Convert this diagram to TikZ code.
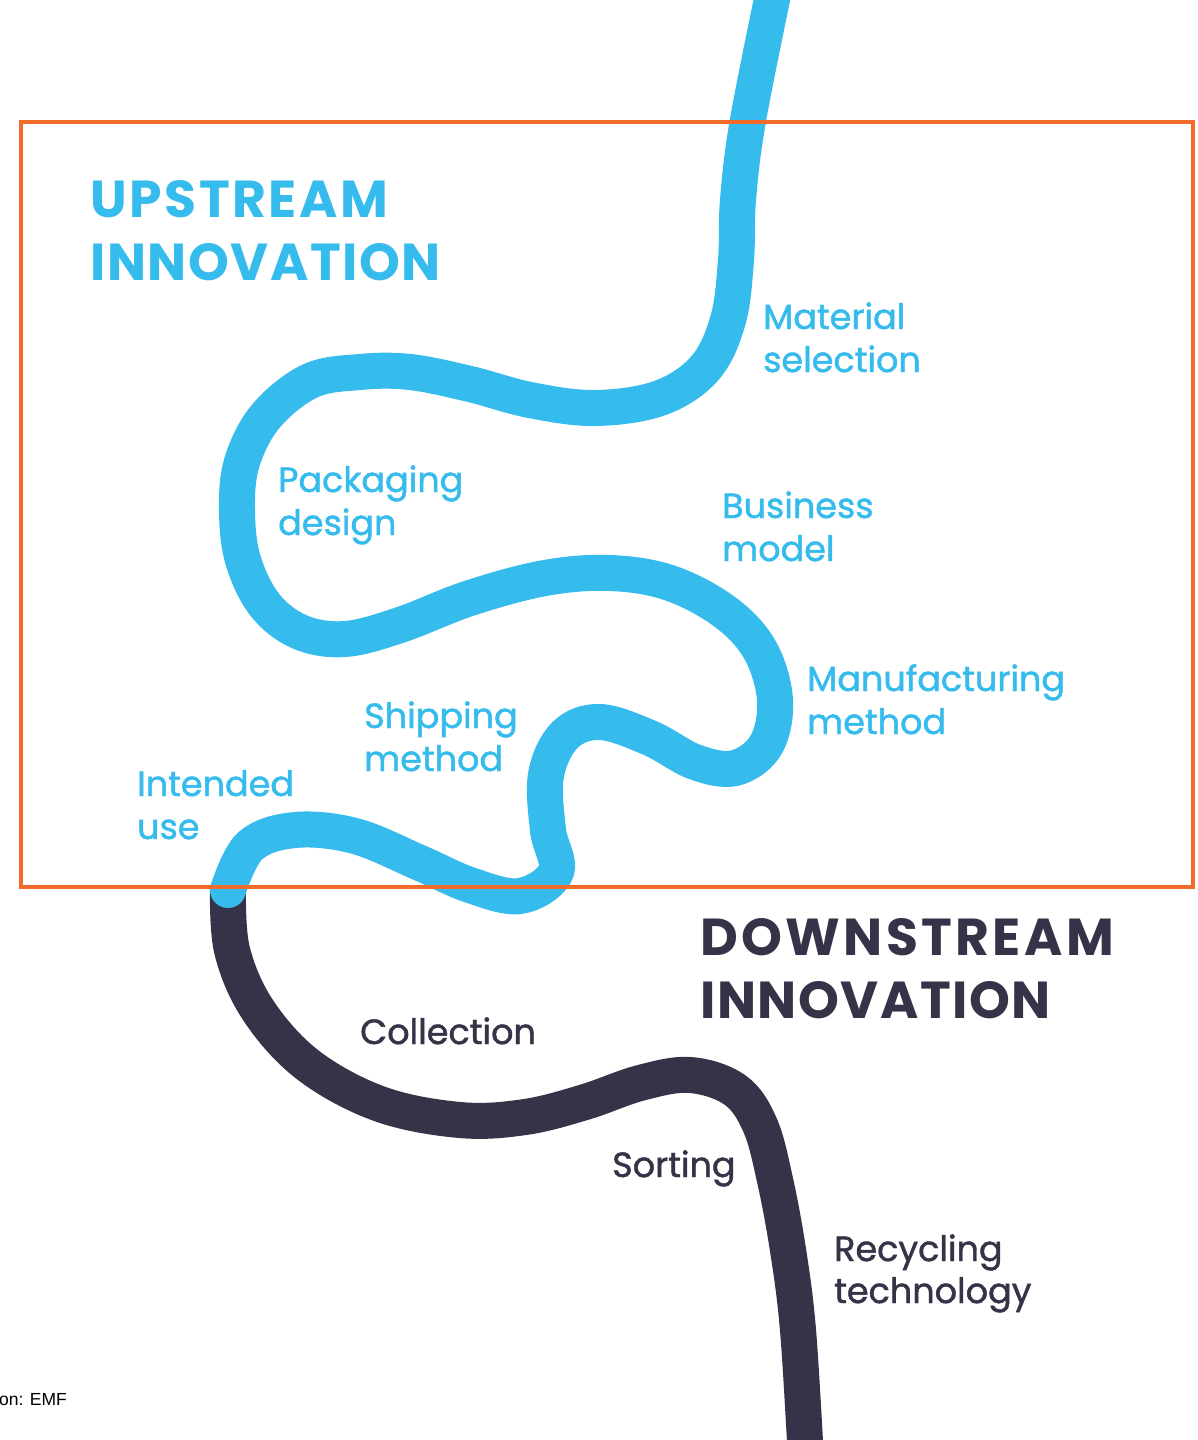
\documentclass[tikz,border=0pt]{standalone}
\usepackage{fontspec}
\setmainfont{Poppins}
\newfontfamily\labfont{Poppins}[FakeBold=1.3]
\newfontfamily\titlefont{Poppins Bold}
\newfontfamily\srcfont{Liberation Sans}
\definecolor{upblue}{HTML}{35BBEC}
\definecolor{downdark}{HTML}{353347}
\definecolor{frameorange}{HTML}{F26B2A}
\begin{document}
\begin{tikzpicture}[x=1pt,y=-1pt,
  lab/.style={anchor=base west,inner sep=0pt,font=\labfont\fontsize{35}{40}\selectfont},
  uplab/.style={lab,text=upblue},
  downlab/.style={lab,text=downdark},
  title/.style={anchor=base west,inner sep=0pt,font=\titlefont\fontsize{52}{60}\selectfont},
  river/.style={line width=36pt,line join=round}]
\useasboundingbox (0,0) rectangle (1197,1440);
\fill[white] (0,0) rectangle (1197,1440);
% downstream river
\draw[river,downdark] plot[smooth,tension=0.6] coordinates {
 (228,888) (232,950) (258,1010) (308,1065) (380,1104) (460,1120) (525,1117)
 (585,1102) (640,1083) (690,1075) (735,1090) (760,1125) (775,1180)
 (788,1250) (798,1330) (806,1460)};
% upstream river
\draw[river,upblue,line cap=round] plot[smooth,tension=0.6] coordinates {
 (776,-20) (748,120) (738,200) (736,260) (728,320) (705,368) (660,398) (595,408)
 (530,400) (470,384) (410,372) (360,372) (310,381) (266,416) (242,462)
 (237,510) (243,560) (265,605) (300,632) (345,639) (400,625)
 (470,598) (545,578) (610,573) (670,583) (725,612) (760,650) (775,700)
 (766,745) (735,768) (695,762) (650,738) (600,722) (565,735) (546,775)
 (548,830) (556,872) (520,896) (470,885) (420,863) (355,836)
 (295,830) (250,846) (228,890)};
% frame
\draw[frameorange,line width=4pt] (21,122) rectangle (1193,887);
% titles
\node[title,text=upblue] (up1) at (90,217) {\addfontfeature{LetterSpace=5}UPSTREAM};
\node[title,text=upblue] (up2) at (90,280) {\addfontfeature{LetterSpace=3}INNOVATION};
\node[title,text=downdark] (dn1) at (700,955) {\addfontfeature{LetterSpace=6.5}DOWNSTREAM};
\node[title,text=downdark] (dn2) at (700,1018) {\addfontfeature{LetterSpace=3}INNOVATION};
% upstream labels
\node[uplab] (mat1) at (763,329) {Material};
\node[uplab] (mat2) at (763,372) {selection};
\node[uplab] (pack1) at (278,492) {Packaging};
\node[uplab] (pack2) at (278,535) {design};
\node[uplab] (bus1) at (722,518) {Business};
\node[uplab] (bus2) at (722,561) {model};
\node[uplab] (man1) at (807,691) {Manufacturing};
\node[uplab] (man2) at (807,734) {method};
\node[uplab] (ship1) at (364,728) {Shipping};
\node[uplab] (ship2) at (364,771) {method};
\node[uplab] (int1) at (137,796) {Intended};
\node[uplab] (int2) at (137,839) {use};
% downstream labels
\node[downlab] (col) at (360,1044) {Collection};
\node[downlab] (sort) at (612,1177) {Sorting};
\node[downlab] (rec1) at (834,1261) {Recycling};
\node[downlab] (rec2) at (834,1303) {technology};
% source
\node[anchor=base west,inner sep=0pt,font=\srcfont\fontsize{17.5}{20}\selectfont] (src) at (-1,1405) {on: EMF};
\end{tikzpicture}
\end{document}
